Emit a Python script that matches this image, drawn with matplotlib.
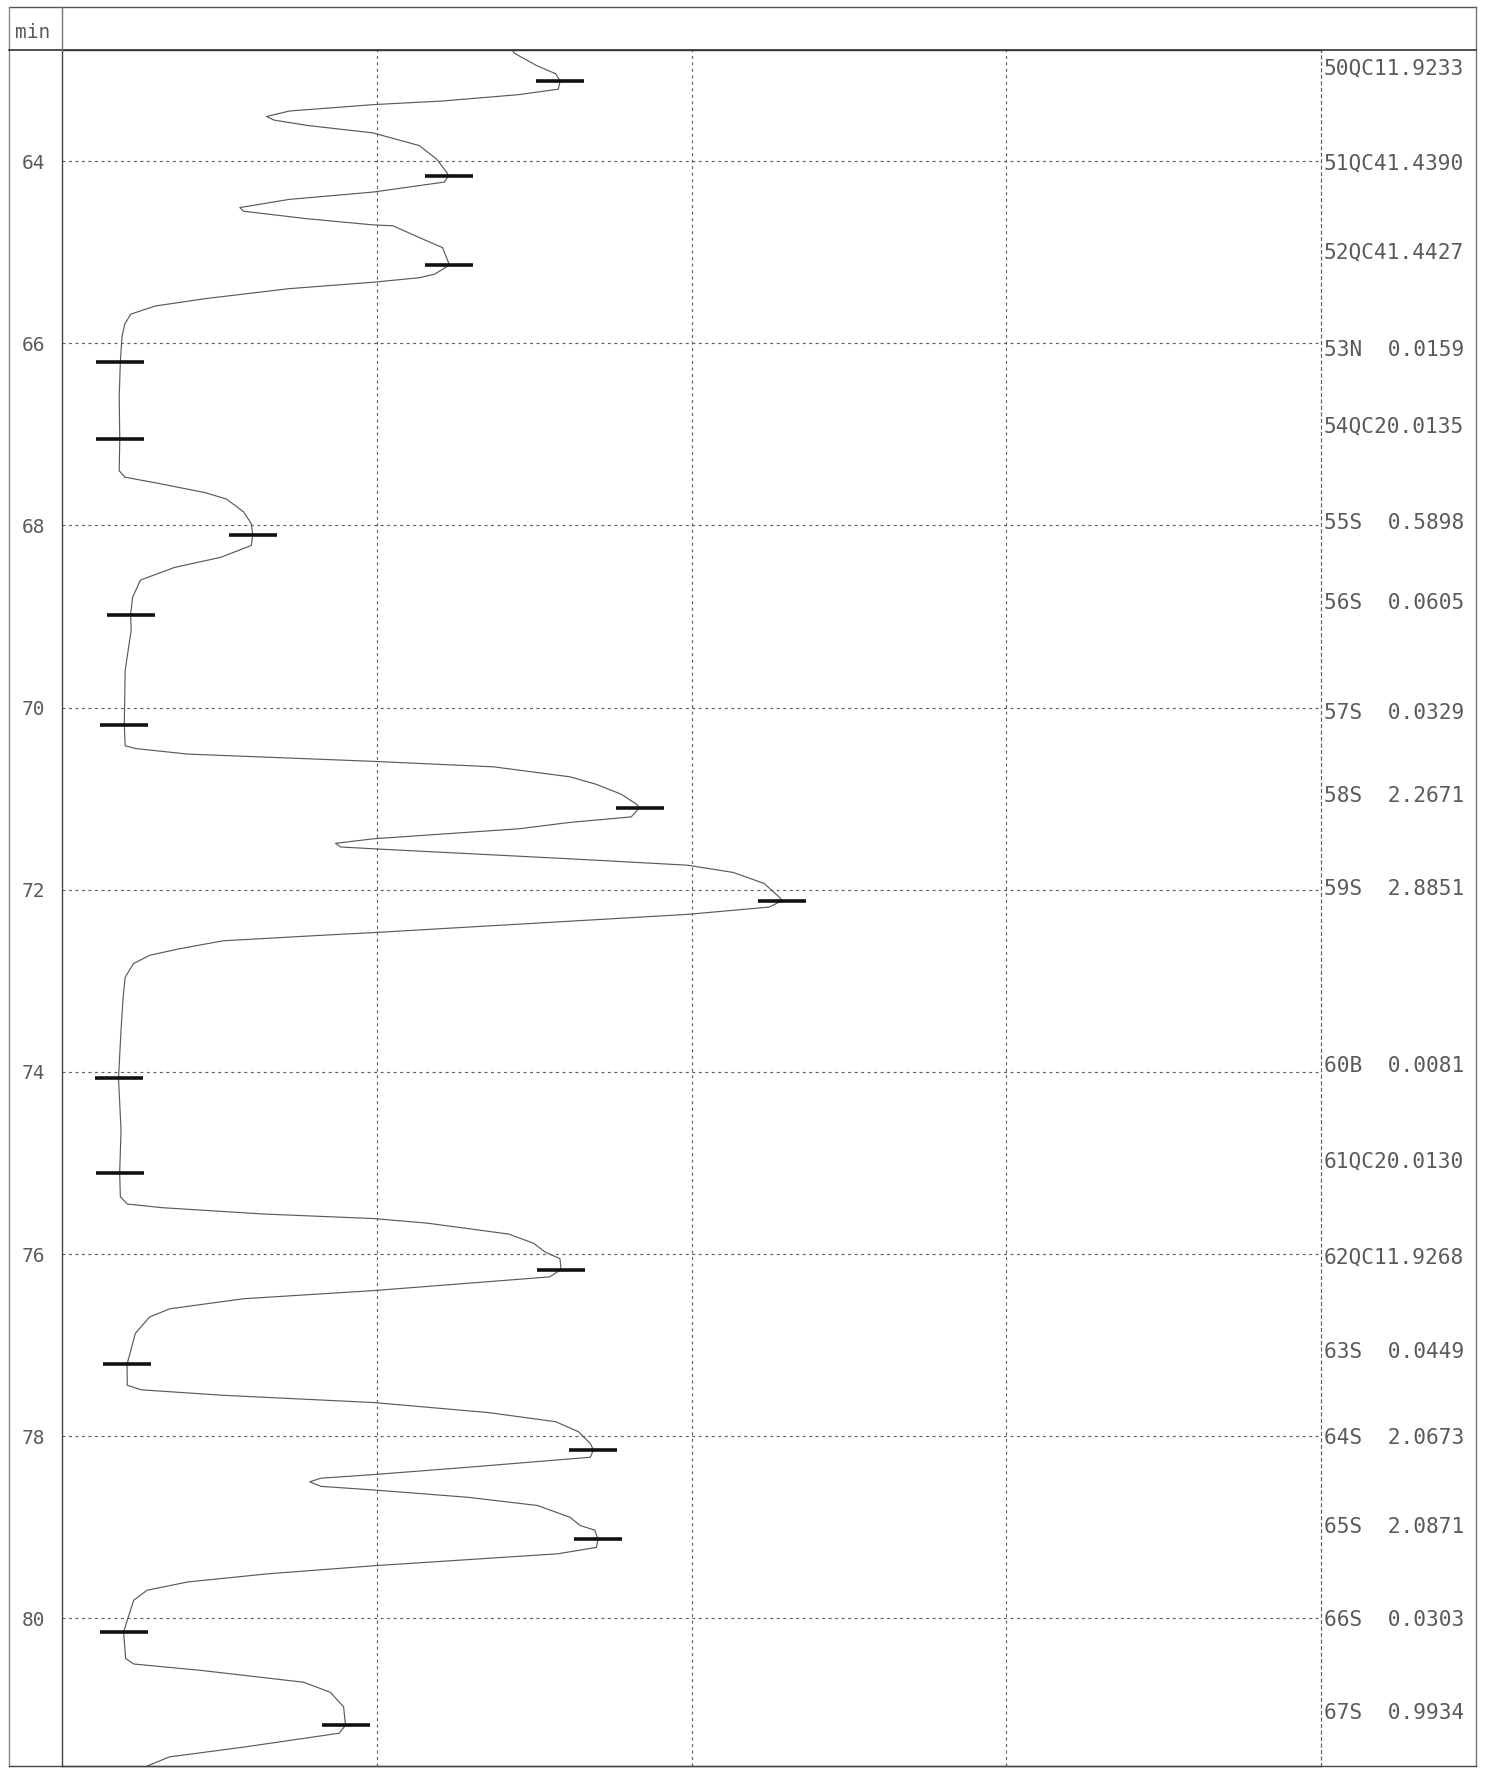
import numpy as np
import matplotlib
matplotlib.use('Agg')
import matplotlib.pyplot as plt
from matplotlib.lines import Line2D

# peak table (name, value, retention time in min)
peak_names = ["50QC1", "51QC4", "52QC4", "53N", "54QC2", "55S", "56S", "57S", "58S",
              "59S", "60B", "61QC2", "62QC1", "63S", "64S", "65S", "66S", "67S"]
peak_values = [1.9233, 1.4390, 1.4427, 0.0159, 0.0135, 0.5898, 0.0605, 0.0329, 2.2671,
               2.8851, 0.0081, 0.0130, 1.9268, 0.0449, 2.0673, 2.0871, 0.0303, 0.9934]
peak_times = [63.12, 64.16, 65.14, 66.20, 67.05, 68.10, 68.98, 70.19, 71.10,
              72.12, 74.07, 75.11, 76.17, 77.21, 78.15, 79.13, 80.15, 81.17]

# trace
trace_time = [
    62.77, 62.82, 62.95, 63.04, 63.12, 63.21, 63.27, 63.34, 63.38, 63.45,
    63.51, 63.55, 63.61, 63.69, 63.83, 63.98, 64.12, 64.16, 64.23, 64.34,
    64.42, 64.51, 64.55, 64.63, 64.70, 64.71, 64.84, 64.95, 65.11, 65.14,
    65.24, 65.28, 65.33, 65.40, 65.51, 65.59, 65.68, 65.79, 65.93, 66.20,
    66.59, 67.05, 67.40, 67.47, 67.54, 67.64, 67.71, 67.85, 67.98, 68.10,
    68.22, 68.35, 68.46, 68.60, 68.79, 68.98, 69.15, 69.59, 70.19, 70.42,
    70.45, 70.51, 70.59, 70.65, 70.76, 70.84, 70.95, 71.06, 71.10, 71.20,
    71.26, 71.33, 71.44, 71.49, 71.53, 71.55, 71.66, 71.73, 71.81, 71.93,
    72.08, 72.12, 72.19, 72.27, 72.47, 72.50, 72.56, 72.65, 72.72, 72.81,
    72.96, 73.18, 73.54, 74.07, 74.64, 75.11, 75.37, 75.45, 75.49, 75.56,
    75.61, 75.66, 75.78, 75.88, 75.98, 76.05, 76.17, 76.25, 76.32, 76.40,
    76.49, 76.60, 76.69, 76.87, 77.09, 77.21, 77.44, 77.49, 77.55, 77.63,
    77.74, 77.84, 77.95, 78.08, 78.15, 78.23, 78.34, 78.42, 78.46, 78.50,
    78.55, 78.59, 78.67, 78.76, 78.89, 78.98, 79.03, 79.13, 79.22, 79.29,
    79.42, 79.51, 79.60, 79.69, 79.80, 79.98, 80.15, 80.44, 80.50, 80.57,
    80.70, 80.81, 80.97, 81.12, 81.17, 81.26, 81.41, 81.52, 81.66]
trace_value = [
    1.71, 1.728, 1.820, 1.903, 1.923, 1.915, 1.744, 1.413, 1.111, 0.749,
    0.650, 0.683, 0.832, 1.111, 1.313, 1.388, 1.430, 1.439, 1.421, 1.111,
    0.749, 0.534, 0.550, 0.816, 1.111, 1.198, 1.313, 1.413, 1.438, 1.443,
    1.380, 1.313, 1.111, 0.749, 0.384, 0.169, 0.061, 0.035, 0.023, 0.016,
    0.011, 0.0135, 0.011, 0.036, 0.185, 0.384, 0.476, 0.550, 0.584, 0.590,
    0.584, 0.451, 0.252, 0.103, 0.069, 0.0605, 0.063, 0.037, 0.033, 0.037,
    0.085, 0.307, 1.114, 1.634, 1.966, 2.077, 2.187, 2.254, 2.267, 2.231,
    1.966, 1.745, 1.114, 0.949, 0.971, 1.114, 1.966, 2.475, 2.674, 2.807,
    2.873, 2.885, 2.829, 2.475, 1.114, 0.886, 0.462, 0.267, 0.143, 0.073,
    0.037, 0.028, 0.019, 0.008, 0.019, 0.013, 0.016, 0.046, 0.196, 0.639,
    1.117, 1.347, 1.700, 1.807, 1.860, 1.922, 1.927, 1.877, 1.524, 1.117,
    0.550, 0.231, 0.143, 0.081, 0.058, 0.045, 0.046, 0.107, 0.462, 1.117,
    1.612, 1.904, 2.002, 2.054, 2.067, 2.054, 1.524, 1.117, 0.886, 0.837,
    0.886, 1.117, 1.524, 1.825, 1.966, 2.010, 2.073, 2.087, 2.080, 1.913,
    1.124, 0.655, 0.307, 0.132, 0.074, 0.051, 0.030, 0.039, 0.074, 0.364,
    0.810, 0.926, 0.984, 0.990, 0.993, 0.965, 0.558, 0.229, 0.094]

time_ticks = [64, 66, 68, 70, 72, 74, 76, 78, 80]

W, H = 1486, 1773
FONT = 'DejaVu Sans Mono'
INK = '#5a5a5a'

fig = plt.figure(figsize=(W / 100, H / 100), dpi=100)
ax = fig.add_axes([62 / W, 7 / H, (1321 - 62) / W, (1766 - 50) / H])

ax.plot(trace_value, trace_time, color='#5a5a5a', lw=0.85)
ax.plot(peak_values, peak_times, ls='none', marker='_', ms=34, mew=2.6, color='#111111')

xlim = (-0.237, 5.222)
ax.set_xlim(*xlim)
ax.set_ylim(81.62, 62.78)

ax.set_xticks(np.linspace(xlim[0], xlim[1], 5)[1:4])
ax.set_xticklabels([])
ax.set_yticks(time_ticks)
ax.set_yticklabels([str(t) for t in time_ticks], family=FONT, fontsize=14, color=INK)
ax.tick_params(length=0, pad=12)
ax.grid(True, ls=(0, (2.5, 3)), color='#606060', lw=0.85)

for s in ['left', 'top', 'bottom']:
    ax.spines[s].set_color('#444444')
    ax.spines[s].set_linewidth(1.0)
ax.spines['right'].set_linestyle((0, (2.5, 3)))
ax.spines['right'].set_color('#606060')
ax.spines['right'].set_linewidth(0.85)

# right column: peak name + value
for name, val, t in zip(peak_names, peak_values, peak_times):
    ax.annotate(f"{name:<5}{val:.4f}", xy=(1, t), xycoords=('axes fraction', 'data'),
                xytext=(3, 6), textcoords='offset pixels', ha='left', va='baseline',
                family=FONT, fontsize=15.2, color=INK, annotation_clip=False)


def fline(x0, y0, x1, y1, c='#666666', lw=1.0):
    fig.add_artist(Line2D([x0 / W, x1 / W], [1 - y0 / H, 1 - y1 / H],
                          transform=fig.transFigure, color=c, lw=lw))


# outer frame and header row
fline(9, 7, 1476, 7, '#555555')
fline(9, 7, 9, 1766, '#888888')
fline(1476, 7, 1476, 1766, '#777777')
fline(9, 1766, 1476, 1766, '#444444')
fline(9, 50, 1476, 50, '#333333', 1.2)
fline(62, 7, 62, 50, '#777777')

fig.text(15 / W, 1 - 32 / H, "min", family=FONT, fontsize=14, color=INK,
         ha='left', va='center')

fig.savefig('out.png', dpi=100, facecolor='white')
